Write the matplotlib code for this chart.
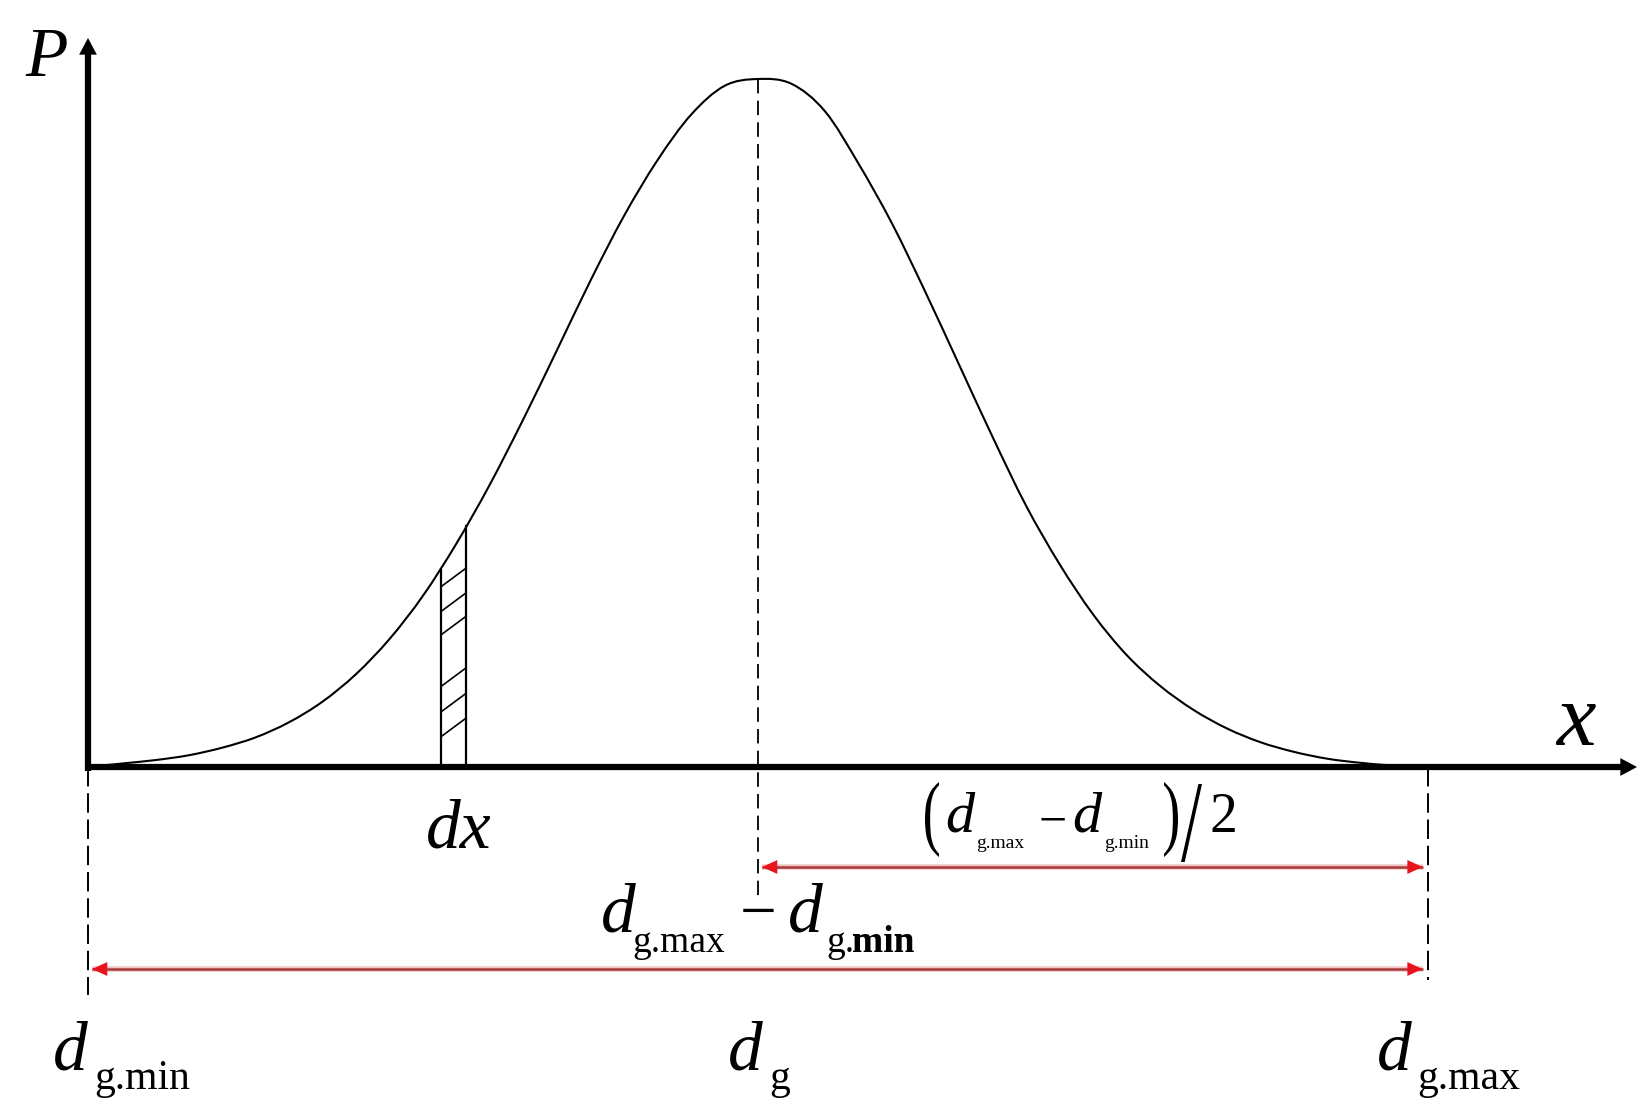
import matplotlib
matplotlib.use("Agg")
import matplotlib.pyplot as plt
from matplotlib.patches import FancyArrowPatch, PathPatch
from matplotlib.path import Path
from matplotlib.textpath import TextPath
from matplotlib.font_manager import FontProperties
from matplotlib.transforms import Affine2D, IdentityTransform

# ---------------- data ----------------
# x in units where d_g.min = 0, d_g = 5, d_g.max = 10 ; P normalised to peak = 1
curve_x = [0.0, 0.25, 0.5, 0.75, 1.0, 1.25, 1.5, 1.75, 2.0, 2.25, 2.5, 2.75,
           3.0, 3.25, 3.5, 3.75, 4.0, 4.25, 4.5, 4.75, 5.0, 5.25, 5.5, 5.75,
           6.0, 6.25, 6.5, 6.75, 7.0, 7.25, 7.5, 7.75, 8.0, 8.25, 8.5, 8.75,
           9.0, 9.25, 9.5, 9.75, 10.0]
curve_p = [0.0, 0.005, 0.010, 0.017, 0.028, 0.043, 0.065, 0.095, 0.135, 0.186,
           0.249, 0.325, 0.411, 0.506, 0.606, 0.707, 0.801, 0.882, 0.948, 0.99,
           1.0, 0.993, 0.953, 0.877, 0.79, 0.69, 0.585, 0.48, 0.38, 0.295, 0.222,
           0.163, 0.118, 0.083, 0.056, 0.036, 0.022, 0.012, 0.006, 0.002, 0.0]

d_min, d_g, d_max = 0.0, 5.0, 10.0
strip_x = [2.634, 2.821]          # dx strip edges
strip_top = [0.287, 0.350]        # curve height at the strip edges
hatch_y = [0.262, 0.226, 0.192, 0.117, 0.080, 0.044]   # left ends of hatch strokes
hatch_rise = 0.027

# ---------------- figure / coordinate set-up ----------------
W, H = 1651, 1106
fig = plt.figure(figsize=(W / 100, H / 100), dpi=100)
ax = fig.add_axes([0, 0, 1, 1])
PX_X0, PX_PER_X = 88.0, 134.0      # pixel of x=0, pixels per x unit
PX_Y0, PX_PER_Y = 767.0, 688.0     # pixel row of P=0, pixels per P unit
ax.set_xlim(-PX_X0 / PX_PER_X, (W - PX_X0) / PX_PER_X)
ax.set_ylim(-(H - PX_Y0) / PX_PER_Y, PX_Y0 / PX_PER_Y)
ax.axis("off")

FONT = "Liberation Serif"


def ptext(x, y, s, size, style="normal", ha="left", weight="normal"):
    fig.text(x / W, 1 - y / H, s, fontsize=size, fontstyle=style,
             fontfamily=FONT, ha=ha, va="baseline", fontweight=weight)


def glyph_box(s, x0, y0, x1, y1):
    """Draw glyph s (as a real text path) fitted into pixel box (top-left origin)."""
    tp = TextPath((0, 0), s, size=100, prop=FontProperties(family=FONT))
    ext = tp.get_extents()
    sx = (x1 - x0) / ext.width
    sy = (y1 - y0) / ext.height
    tr = (Affine2D().translate(-ext.x0, -ext.y0).scale(sx, sy)
          .translate(x0, H - y1))
    fig.add_artist(PathPatch(tr.transform_path(tp), transform=IdentityTransform(),
                             facecolor="black", edgecolor="none"))


def head(p0, p1, color, scale, hl, hw):
    ax.add_patch(FancyArrowPatch(p0, p1, arrowstyle=f"-|>,head_length={hl},head_width={hw}",
                                 mutation_scale=scale, lw=0, color=color,
                                 shrinkA=0, shrinkB=0, zorder=6))


# ---------------- axes with arrows ----------------
y_tip = (PX_Y0 - 38) / PX_PER_Y
x_tip = (1637 - PX_X0) / PX_PER_X
ax.plot([0, 0], [-4 / PX_PER_Y, y_tip - 0.015], color="black", lw=4.5,
        solid_capstyle="butt", zorder=5)
ax.plot([-2 / PX_PER_X, x_tip - 0.08], [0, 0], color="black", lw=4.5,
        solid_capstyle="butt", zorder=5)
head((0, y_tip - 0.03), (0, y_tip), "black", 20, 0.6, 0.32)
head((x_tip - 0.15, 0), (x_tip, 0), "black", 20, 0.6, 0.32)

# ---------------- distribution curve (smooth Bezier through the read points) ----
verts = [(curve_x[0], curve_p[0])]
codes = [Path.MOVETO]
n = len(curve_x)
for i in range(n - 1):
    xa, ya = curve_x[max(i - 1, 0)], curve_p[max(i - 1, 0)]
    x0, y0 = curve_x[i], curve_p[i]
    x1, y1 = curve_x[i + 1], curve_p[i + 1]
    xb, yb = curve_x[min(i + 2, n - 1)], curve_p[min(i + 2, n - 1)]
    c1 = (x0 + (x1 - xa) / 6.0, y0 + (y1 - ya) / 6.0)
    c2 = (x1 - (xb - x0) / 6.0, y1 - (yb - y0) / 6.0)
    verts += [c1, c2, (x1, y1)]
    codes += [Path.CURVE4] * 3
ax.add_patch(PathPatch(Path(verts, codes), fill=False, edgecolor="black",
                       lw=1.5, zorder=4))

# dx strip with hatching
for sx, st in zip(strip_x, strip_top):
    ax.plot([sx, sx], [0, st], color="black", lw=1.6, zorder=4)
for hy in hatch_y:
    ax.plot([strip_x[0], strip_x[1]], [hy, hy + hatch_rise], color="black",
            lw=1.2, zorder=4)

# ---------------- dashed guide lines ----------------
ax.plot([d_g, d_g], [1.0, (PX_Y0 - 897) / PX_PER_Y], color="black", lw=1.3,
        dashes=(8, 4), zorder=3)
ax.plot([d_min, d_min], [0, (PX_Y0 - 995) / PX_PER_Y], color="black", lw=1.4,
        dashes=(10, 3.5), zorder=3)
ax.plot([d_max, d_max], [0, (PX_Y0 - 980) / PX_PER_Y], color="black", lw=1.4,
        dashes=(10, 3.5), zorder=3)

# ---------------- red dimension arrows ----------------
def red_arrow(x0, x1, yv):
    ax.plot([x0, x1], [yv, yv], color="#f3c6c6", lw=4.0, zorder=4,
            solid_capstyle="butt")
    ax.plot([x0, x1], [yv, yv], color="#a83a3a", lw=1.8, zorder=5,
            solid_capstyle="butt")
    head((x0 + 0.2, yv), (x0, yv), "#e8141c", 10, 1.1, 0.5)
    head((x1 - 0.2, yv), (x1, yv), "#e8141c", 10, 1.1, 0.5)


red_arrow(d_g + 0.03, d_max - 0.04, (PX_Y0 - 867) / PX_PER_Y)
red_arrow(d_min + 0.03, d_max - 0.04, (PX_Y0 - 969) / PX_PER_Y)

# ---------------- labels ----------------
ptext(47, 76, "P", 50, style="italic", ha="center")
ptext(1576, 745, "x", 64, style="italic", ha="center")
ptext(459, 848, "dx", 50, style="italic", ha="center")

# (d_g.max - d_g.min)/2
glyph_box("(", 925, 782, 939, 857)
ptext(960, 832, "d", 42, style="italic", ha="center")
ptext(976, 848, "g.max", 14)
ptext(1053, 836, "\u2212", 36, ha="center")
ptext(1087, 832, "d", 42, style="italic", ha="center")
ptext(1104, 848, "g.min", 14)
glyph_box(")", 1164, 782, 1178, 857)
glyph_box("/", 1181, 784, 1202, 862)
ptext(1223, 832, "2", 40, ha="center")

# d_g.max - d_g.min
ptext(618, 932, "d", 50, style="italic", ha="center")
ptext(632, 952, "g.max", 27)
ptext(758, 932, "\u2212", 47, ha="center")
ptext(805, 932, "d", 50, style="italic", ha="center")
ptext(826, 952, "g.", 27)
ptext(852, 952, "min", 27, weight="bold")

# bottom labels
ptext(70, 1070, "d", 50, style="italic", ha="center")
ptext(94, 1089, "g.min", 30)
ptext(745, 1070, "d", 50, style="italic", ha="center")
ptext(769, 1089, "g", 30)
ptext(1394, 1070, "d", 50, style="italic", ha="center")
ptext(1417, 1089, "g.max", 30)

fig.savefig("out.png", dpi=100, facecolor="white")
